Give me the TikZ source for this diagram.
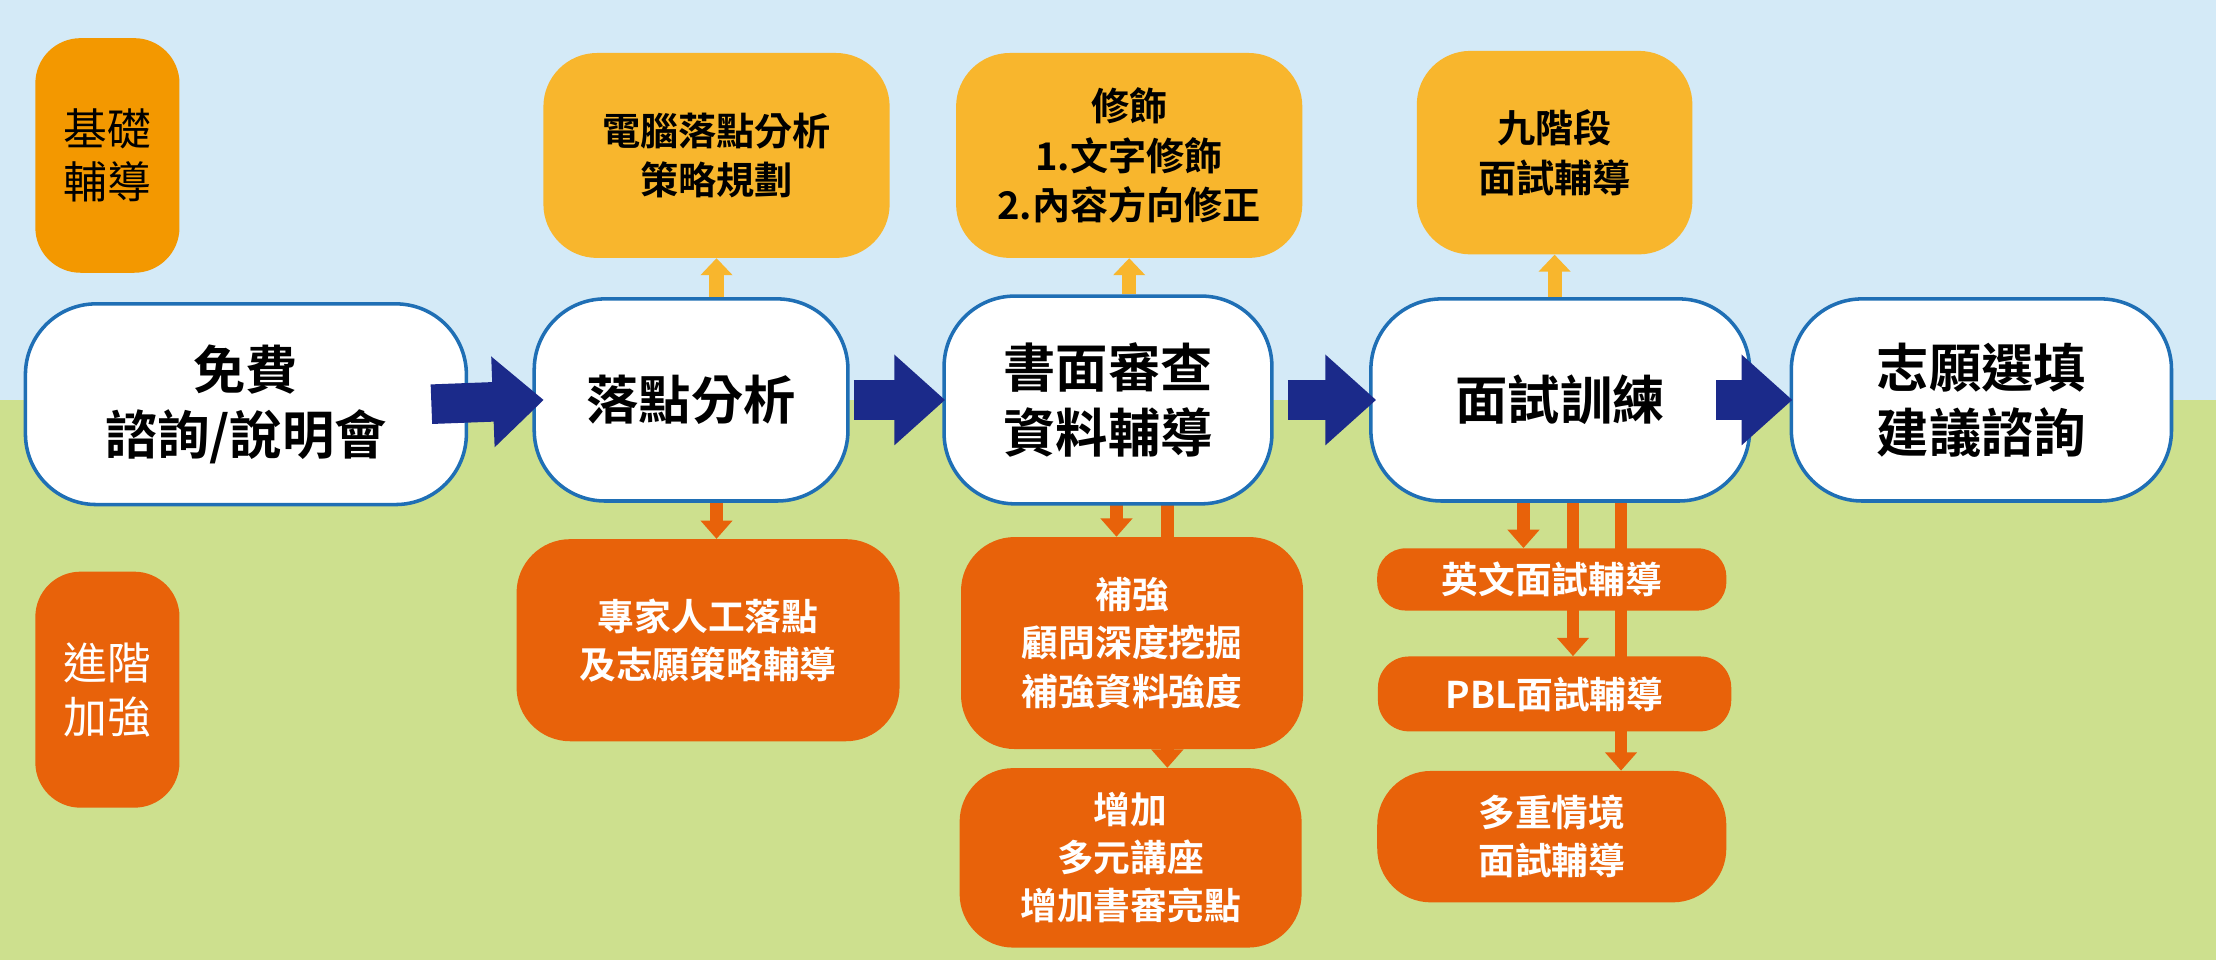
\documentclass[tikz,border=0pt]{standalone}
\usepackage{fontspec}
\newfontfamily\cjk{Noto Sans CJK TC Bold}
\newfontfamily\cjkr{Noto Sans CJK TC}
\usetikzlibrary{arrows.meta}
\definecolor{sky}{HTML}{D4EAF7}
\definecolor{grass}{HTML}{CDE08E}
\definecolor{yel}{HTML}{F8B62D}
\definecolor{org}{HTML}{E8620A}
\definecolor{side}{HTML}{F39800}
\definecolor{bord}{HTML}{1F6FB5}
\definecolor{navy}{HTML}{1B2A8A}
\tikzset{
 mainbox/.style={draw=bord,line width=2.5pt,fill=white,rounded corners=50pt,font=\cjk\fontsize{37}{46}\selectfont,align=center,inner sep=0pt},
 topbox/.style={fill=yel,rounded corners=38pt,font=\cjk\fontsize{27}{35}\selectfont,align=center,inner sep=0pt},
 botbox/.style={fill=org,text=white,rounded corners=38pt,font=\cjk\fontsize{26}{34}\selectfont,align=center,inner sep=0pt},
 sidebox/.style={rounded corners=32pt,font=\cjkr\fontsize{31}{38}\selectfont,align=center,inner sep=0pt},
 bigarrow/.style={navy,line width=28pt,-{Triangle[length=36pt,width=62pt]}},
 uparrow/.style={yel,line width=10pt,-{Triangle[length=12pt,width=22pt]}},
 dnarrow/.style={org,line width=9pt,-{Triangle[length=13pt,width=22pt]}},
}
\begin{document}
\begin{tikzpicture}[x=1pt,y=-1pt]
\useasboundingbox (0,0) rectangle (1568,679);
\fill[sky] (0,0) rectangle (1568,283);
\fill[grass] (0,283) rectangle (1568,679);
\node[sidebox,fill=side,text=black,minimum width=102pt,minimum height=166pt] (s1) at (76,110) {基礎\\輔導};
\node[sidebox,fill=org,text=white,minimum width=102pt,minimum height=167pt] (s2) at (76,488) {進階\\加強};
% top boxes
\node[topbox,minimum width=245pt,minimum height=145pt] (t1) at (507,110) {電腦落點分析\\策略規劃};
\node[topbox,minimum width=245pt,minimum height=145pt] (t2) at (799,110) {修飾\\1.文字修飾\\2.內容方向修正};
\node[topbox,minimum width=195pt,minimum height=144pt] (t3) at (1100,108) {九階段\\面試輔導};
% bottom arrows (behind)
\coordinate (d2a) at (790,343); \coordinate (d2b) at (826,343);
\coordinate (d3a) at (1078,340); \coordinate (d3b) at (1113,340); \coordinate (d3c) at (1147,340);
\coordinate (d1) at (507,343);
\node[botbox,minimum width=242pt,minimum height=127pt] (b3) at (800,607) {增加\\多元講座\\增加書審亮點};
\node[botbox,minimum width=247pt,minimum height=93pt] (b6) at (1098,592) {多重情境\\面試輔導};
\draw[dnarrow] (d2b) -- (b3.north -| d2b);
\draw[dnarrow] (d3c) -- (b6.north -| d3c);
\node[botbox,rounded corners=22pt,minimum width=250pt,minimum height=53pt] (b5) at (1100,491) {PBL面試輔導};
\draw[dnarrow] (d3b) -- (b5.north -| d3b);
\node[botbox,rounded corners=20pt,minimum width=247pt,minimum height=44pt] (b4) at (1098,410) {英文面試輔導};
\draw[dnarrow] (d3a) -- (b4.north -| d3a);
\node[botbox,minimum width=271pt,minimum height=143pt] (b1) at (501,453) {專家人工落點\\及志願策略輔導};
\node[botbox,minimum width=242pt,minimum height=150pt] (b2) at (801,455) {補強\\顧問深度挖掘\\補強資料強度};
\draw[dnarrow] (d1) -- (b1.north -| d1);
\draw[dnarrow] (d2a) -- (b2.north -| d2a);
% main boxes
\node[mainbox,minimum width=312pt,minimum height=142pt] (m1) at (174,286) {免費\\諮詢/說明會};
\node[mainbox,minimum width=222pt,minimum height=143pt] (m2) at (489,283) {落點分析};
\node[mainbox,minimum width=232pt,minimum height=147pt] (m3) at (784,283) {書面審查\\資料輔導};
\node[mainbox,minimum width=268pt,minimum height=143pt] (m4) at (1104,283) {面試訓練};
\node[mainbox,minimum width=269pt,minimum height=143pt] (m5) at (1402,283) {志願選填\\建議諮詢};
% up arrows
\draw[uparrow] (m2.north -| t1) -- (t1.south);
\draw[uparrow] (m3.north -| t2) -- (t2.south);
\draw[uparrow] (m4.north -| t3) -- (t3.south);
% big arrows
\draw[bigarrow] ([xshift=-26pt]m1.east) -- ([xshift=8pt]m2.west);
\draw[bigarrow] ([xshift=3pt]m2.east) -- ([xshift=2pt]m3.west);
\draw[bigarrow] ([xshift=10pt]m3.east) -- ([xshift=5pt]m4.west);
\draw[bigarrow] ([xshift=-25pt]m4.east) -- ([xshift=2pt]m5.west);
\end{tikzpicture}
\end{document}
